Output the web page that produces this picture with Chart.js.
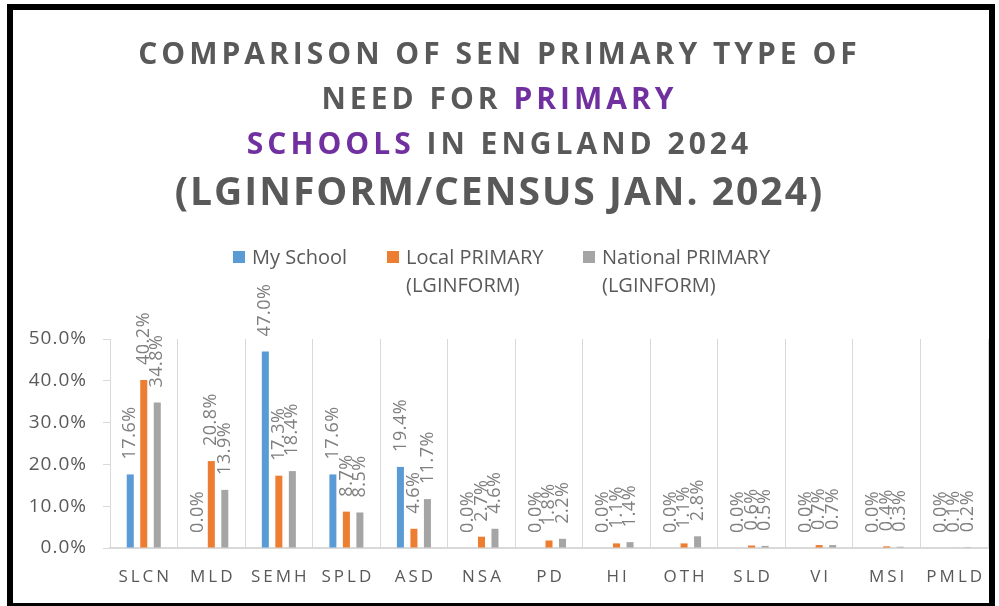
<!DOCTYPE html>
<html>
<head>
<meta charset="utf-8">
<script src="https://cdn.jsdelivr.net/npm/chart.js@4.4.0/dist/chart.umd.min.js"></script>
<style>
  body { margin: 0; background: #fff; font-family: "Open Sans", sans-serif; }
  #wrap { position: relative; width: 999px; height: 606px; overflow: hidden; }
  #chart { position: absolute; left: 0; top: 0; }
  #frame { position: absolute; left: 7px; top: 4px; width: 988px; height: 605px; box-sizing: border-box; border: 6px solid #000; }
  .title { position: absolute; left: 0; width: 999px; text-align: center; font-weight: 700; color: #595959; white-space: nowrap; }
  .t1 { font-size: 30px; line-height: 45px; letter-spacing: 4px; }
  .t4 { font-size: 39px; line-height: 45px; letter-spacing: 2px; }
  .purple { color: #7030A0; }
  .leg { position: absolute; font-size: 20px; line-height: 28px; color: #595959; white-space: nowrap; }
  .box { position: absolute; width: 12px; height: 12px; }
</style>
</head>
<body>
<div id="wrap">
  <canvas id="chart" width="999" height="606"></canvas>
  <div class="title t1" style="top:30px">COMPARISON OF SEN PRIMARY TYPE OF</div>
  <div class="title t1" style="top:75px">NEED FOR <span class="purple">PRIMARY</span></div>
  <div class="title t1" style="top:120px"><span class="purple">SCHOOLS</span> IN ENGLAND 2024</div>
  <div class="title t4" style="top:167px">(LGINFORM/CENSUS JAN. 2024)</div>

  <div class="box" style="left:233px; top:251px; background:#5B9BD5"></div>
  <div class="leg" style="left:252px; top:243px">My School</div>
  <div class="box" style="left:387px; top:251px; background:#ED7D31"></div>
  <div class="leg" style="left:406px; top:243px">Local PRIMARY<br>(LGINFORM)</div>
  <div class="box" style="left:583px; top:251px; background:#A5A5A5"></div>
  <div class="leg" style="left:602px; top:243px">National PRIMARY<br>(LGINFORM)</div>

  <div id="frame"></div>
</div>
<script>
const categories = ["SLCN", "MLD", "SEMH", "SPLD", "ASD", "NSA", "PD", "HI", "OTH", "SLD", "VI", "MSI", "PMLD"];
const mySchool = [17.6, 0.0, 47.0, 17.6, 19.4, 0.0, 0.0, 0.0, 0.0, 0.0, 0.0, 0.0, 0.0];
const localPrimary = [40.2, 20.8, 17.3, 8.7, 4.6, 2.7, 1.8, 1.1, 1.1, 0.6, 0.7, 0.4, 0.1];
const nationalPrimary = [34.8, 13.9, 18.4, 8.5, 11.7, 4.6, 2.2, 1.4, 2.8, 0.5, 0.7, 0.3, 0.2];
const seriesNames = ["My School", "Local PRIMARY (LGINFORM)", "National PRIMARY (LGINFORM)"];
const seriesColors = ["#5B9BD5", "#ED7D31", "#A5A5A5"];
const yMax = 50;
const yStep = 10;

Chart.defaults.font.family = '"Open Sans", sans-serif';

// text spacing for the whole canvas (axis labels look a bit spread out)
const spacing = {
  id: "spacing",
  beforeDraw(chart) {
    chart.ctx.letterSpacing = "1px";
  }
};

// rotated value labels above each bar
const barLabels = {
  id: "barLabels",
  afterDatasetsDraw(chart) {
    const ctx = chart.ctx;
    ctx.save();
    ctx.letterSpacing = "0.5px";
    ctx.font = '18px "Open Sans"';
    ctx.fillStyle = "#7f7f7f";
    ctx.textAlign = "left";
    ctx.textBaseline = "middle";
    chart.data.datasets.forEach((ds, i) => {
      chart.getDatasetMeta(i).data.forEach((bar, j) => {
        ctx.save();
        ctx.translate(bar.x, bar.y - 15);
        ctx.rotate(-Math.PI / 2);
        ctx.fillText(ds.data[j].toFixed(1) + "%", 0, 0);
        ctx.restore();
      });
    });
    ctx.restore();
  }
};

// category names under the axis, letter spaced
const catLabels = {
  id: "catLabels",
  afterDraw(chart) {
    const ctx = chart.ctx;
    const x = chart.scales.x;
    ctx.save();
    ctx.letterSpacing = "3px";
    ctx.font = '17px "Open Sans"';
    ctx.fillStyle = "#595959";
    ctx.textAlign = "center";
    ctx.textBaseline = "middle";
    categories.forEach((c, i) => {
      ctx.fillText(c, x.getPixelForValue(i) + 1.5, 577);
    });
    ctx.restore();
  }
};

new Chart(document.getElementById("chart"), {
  type: "bar",
  data: {
    labels: categories,
    datasets: [mySchool, localPrimary, nationalPrimary].map((d, i) => ({
      label: seriesNames[i],
      data: d,
      backgroundColor: seriesColors[i],
      categoryPercentage: 0.6,
      barPercentage: 0.52
    }))
  },
  options: {
    responsive: false,
    animation: false,
    layout: { padding: { top: 339, right: 11, bottom: 58, left: 0 } },
    plugins: {
      legend: { display: false },
      title: { display: false },
      tooltip: { enabled: false }
    },
    scales: {
      x: {
        ticks: { display: false },
        grid: { offset: true, color: "#d9d9d9", drawTicks: false, lineWidth: 1 },
        border: { color: "#d9d9d9", width: 2 },
        afterFit: s => { s.height = 0; }
      },
      y: {
        min: 0,
        max: yMax,
        ticks: {
          stepSize: yStep,
          callback: v => v.toFixed(1) + "%",
          color: "#595959",
          font: { size: 19 },
          padding: 16
        },
        grid: { drawOnChartArea: false, drawTicks: true, tickLength: 7, color: "#d9d9d9" },
        border: { color: "#d9d9d9", width: 1 },
        afterFit: s => { s.width = 110; }
      }
    }
  },
  plugins: [spacing, barLabels, catLabels]
});
</script>
</body>
</html>
